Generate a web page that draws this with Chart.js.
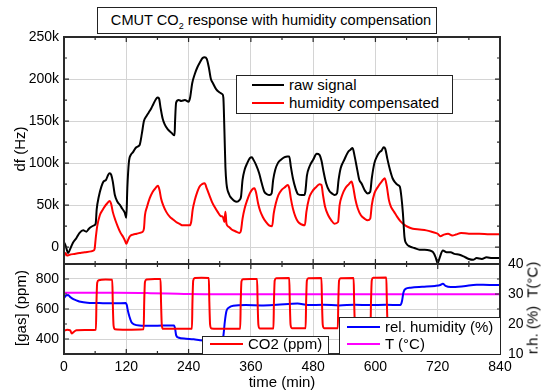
<!DOCTYPE html>
<html>
<head>
<meta charset="utf-8">
<script src="https://cdn.jsdelivr.net/npm/chart.js@4.4.1/dist/chart.umd.min.js"></script>
<style>
  body { margin: 0; background: #fff; font-family: "Liberation Sans", Arial, sans-serif; color: #000; }
  #wrap { position: relative; width: 541px; height: 390px; overflow: hidden; }
  canvas { position: absolute; left: 0; }
  #topChart { top: 0; }
  #bottomChart { top: 250px; }
  .box { position: absolute; background: #fff; border: 1px solid #222; box-sizing: border-box; font-size: 15px; }
  .row { position: absolute; left: 0; height: 18px; line-height: 18px; white-space: nowrap; }
  .swatch { position: absolute; top: 8px; height: 2px; }
  .row .txt { position: absolute; top: 0; }
  .axis-title { position: absolute; font-size: 15px; white-space: pre; transform: translate(-50%, -50%) rotate(-90deg); }
  #title { left: 97px; top: 7px; width: 340px; height: 27px; text-align: center; line-height: 25px; padding-left: 8px; white-space: nowrap; font-size: 14.6px; }
  #title sub { font-size: 9px; line-height: 0; vertical-align: -4px; }
</style>
</head>
<body>
<div id="wrap">
  <canvas id="topChart" width="541" height="270"></canvas>
  <canvas id="bottomChart" width="541" height="140"></canvas>

  <div class="box" id="title">CMUT CO<sub>2</sub> response with humidity compensation</div>

  <div class="box" style="left:236px;top:75px;width:217px;height:39px">
    <div class="row" style="top:0px"><span class="swatch" style="left:15px;width:32px;background:#000"></span><span class="txt" style="left:52px">raw signal</span></div>
    <div class="row" style="top:18px"><span class="swatch" style="left:15px;width:32px;background:#ff0000"></span><span class="txt" style="left:52px">humidity compensated</span></div>
  </div>

  <div class="box" style="left:202px;top:336px;width:127px;height:19px">
    <div class="row" style="top:-2px"><span class="swatch" style="left:7px;width:33px;background:#ff0000"></span><span class="txt" style="left:45px">CO2 (ppm)</span></div>
  </div>

  <div class="box" style="left:339px;top:317px;width:162px;height:38px">
    <div class="row" style="top:0px"><span class="swatch" style="left:7px;width:33px;background:#0000ff"></span><span class="txt" style="left:45px">rel. humidity (%)</span></div>
    <div class="row" style="top:17px"><span class="swatch" style="left:7px;width:33px;background:#ff00ff"></span><span class="txt" style="left:45px">T (°C)</span></div>
  </div>

  <div class="axis-title" style="left:19px;top:149px">df (Hz)</div>
  <div class="axis-title" style="left:20px;top:308px">[gas] (ppm)</div>
  <div class="axis-title" style="left:532px;top:308px">r.h. (%)  T(°C)</div>
  <div class="axis-title" style="left:282px;top:381px;transform:translate(-50%,-50%)">time (min)</div>
</div>

<script>
// tick labels
const timeTicks = [0, 120, 240, 360, 480, 600, 720, 840];
const dfTicks = [0, 50000, 100000, 150000, 200000, 250000];
const gasTicks = [400, 600, 800];
const rhTicks = [10, 20, 30, 40];

// raw CMUT frequency shift (Hz)
const rawTime = [0, 3, 8, 12, 17, 24, 30, 37, 43, 48, 52, 58, 61, 63, 67, 72, 76, 81, 85, 88, 91, 94, 98, 103, 108, 112, 117, 120,
  122, 125, 129, 133, 138, 143, 146, 150, 154, 159, 163, 168, 172, 177, 180, 183, 186, 190, 194, 200, 207, 213,
  214, 216, 221, 226, 233, 240, 243, 247, 252, 257, 262, 267, 271, 275, 279, 283, 287, 293, 300, 305, 307,
  309, 311, 313, 318, 323, 328, 333, 338, 341, 344, 348, 353, 358, 362, 365, 370, 376, 381, 386, 391, 396,
  400, 403, 407, 412, 418, 425, 430, 434, 437, 441, 446, 451, 458, 463, 465, 468, 473, 480, 487, 492, 496,
  500, 505, 511, 516, 521, 526, 529, 533, 540, 547, 552, 556, 560, 565, 569, 573, 580, 585, 590, 593, 598,
  603, 608, 612, 616, 619, 623, 628, 633, 638, 643, 647, 650, 653, 656, 660, 666, 675, 685, 695, 705, 711,
  716, 720, 724, 730, 737, 745, 752, 762, 770, 780, 788, 795, 805, 814, 825, 840];
const rawDf = [6000, 2000, -7000, -2000, 5000, 11000, 17000, 20000, 18500, 22000, 24000, 26000, 28000, 45000, 60000, 72000, 78000, 80000, 86000, 88000, 86000, 78000, 62000, 54000, 50000, 46000, 41000, 35000,
  70000, 101000, 110000, 113000, 118000, 120000, 122000, 135000, 150000, 156000, 160000, 165000, 170000, 176000, 178000, 177000, 166000, 153000, 146000, 140000, 136000, 133000,
  150000, 172000, 175000, 174000, 175000, 173000, 178000, 195000, 206000, 214000, 220000, 225000, 226000, 224000, 214000, 200000, 195000, 188000, 184000, 182000, 178000,
  140000, 95000, 76000, 63000, 58000, 55000, 54000, 56000, 60000, 80000, 92000, 100000, 106000, 107000, 104000, 98000, 88000, 76000, 66000, 63000, 62000,
  64000, 80000, 92000, 100000, 104000, 107000, 108000, 108000, 96000, 82000, 70000, 63000, 62000, 62000, 66000, 85000, 96000, 104000, 111000, 110000, 103000,
  90000, 76000, 67000, 64000, 62000, 64000, 80000, 94000, 104000, 113000, 116000, 118000, 108000, 92000, 80000, 76000, 67000, 64000, 66000, 82000, 100000,
  108000, 113000, 115000, 119000, 117000, 105000, 92000, 82000, 77000, 74000, 72000, 60000, 40000, 12000, 4000, 1000, -1000, -3000, -3000, -4000, -6000,
  -12000, -19000, -12000, -4000, -6000, -6000, -8000, -9000, -11000, -14000, -15000, -13000, -14000, -12000, -13000, -13000];

// humidity compensated frequency shift (Hz)
const compTime = [0, 3, 6, 11, 20, 30, 40, 52, 57, 59, 61, 64, 69, 74, 78, 83, 88, 91, 94, 99, 104, 109, 114, 118, 120,
  123, 127, 133, 140, 146, 151, 154, 156, 160, 165, 171, 176, 181, 184, 187, 191, 197, 204, 210, 216, 222, 229, 236, 242,
  245, 248, 252, 257, 261, 266, 271, 275, 280, 285, 290, 296, 302, 306, 309, 311, 313, 318, 323, 330, 338,
  341, 344, 348, 353, 358, 363, 367, 370, 374, 378, 383, 389, 395, 401, 404, 408, 413, 419, 425, 431, 434,
  437, 441, 446, 451, 458, 464, 467, 472, 478, 485, 492, 496, 499, 503, 509, 515, 521, 528, 531, 536, 542,
  549, 554, 557, 561, 566, 572, 579, 585, 590, 593, 598, 605, 612, 618, 622, 626, 630, 636, 642, 648, 655,
  663, 672, 685, 698, 710, 720, 725, 732, 740, 748, 755, 765, 780, 800, 820, 840];
const compDf = [-11000, -7000, -10000, -9000, -8000, -7000, -6000, -5000, -4000, -2000, 10000, 25000, 38000, 44000, 48000, 52000, 55000, 51000, 42000, 32000, 24000, 17000, 12000, 7000, 4000,
  8000, 13000, 15000, 16000, 17000, 18000, 22000, 38000, 48000, 58000, 66000, 70000, 73000, 68000, 58000, 50000, 42000, 36000, 33000, 30000, 28000, 26000, 26000, 26000,
  30000, 45000, 56000, 66000, 72000, 75000, 76000, 70000, 62000, 54000, 48000, 42000, 37000, 36000, 30000, 42000, 28000, 24000, 21000, 19000, 17000,
  20000, 34000, 46000, 56000, 64000, 69000, 70000, 65000, 52000, 43000, 36000, 30000, 26000, 25000, 40000, 52000, 62000, 68000, 71000, 74000, 70000,
  58000, 46000, 36000, 30000, 27000, 26000, 42000, 58000, 66000, 71000, 75000, 74000, 62000, 48000, 38000, 32000, 28000, 30000, 50000, 62000, 70000,
  75000, 78000, 72000, 58000, 46000, 38000, 34000, 32000, 34000, 50000, 64000, 72000, 78000, 82000, 72000, 56000, 48000, 42000, 36000, 31000, 27000,
  24000, 22000, 21000, 20000, 18000, 16000, 13000, 15000, 16000, 14000, 15000, 17000, 16000, 16000, 15500, 15500];

// CO2 concentration (ppm)
const co2Time = [0, 6, 12, 15, 18, 24, 40, 61.5, 62.5, 64, 67, 80, 93, 94, 95.5, 98, 120,
  153.5, 154.5, 156, 159, 175, 186, 187, 188.5, 191, 220,
  246.5, 247.5, 249, 252, 265, 279, 280, 281.5, 284, 310,
  339.5, 340.5, 342, 345, 360, 372, 373, 374.5, 377,
  403.5, 404.5, 406, 409, 434, 435, 436.5, 439,
  465.5, 466.5, 468, 471, 496, 497, 498.5, 501,
  527.5, 528.5, 530, 533, 558, 559, 560.5, 563,
  590.5, 591.5, 593, 596, 621, 622, 623.5, 626, 700, 840];
const co2Ppm = [455, 462, 458, 436, 445, 458, 460, 462, 640, 775, 792, 796, 795, 640, 490, 465, 462,
  465, 640, 780, 797, 800, 800, 640, 490, 468, 468,
  468, 650, 790, 806, 808, 806, 650, 495, 470, 468,
  468, 650, 785, 798, 800, 800, 650, 495, 470,
  470, 650, 790, 805, 806, 650, 495, 472,
  472, 650, 790, 805, 806, 650, 495, 472,
  472, 650, 790, 805, 806, 650, 495, 472,
  472, 650, 792, 808, 810, 650, 495, 472, 470, 470];

// relative humidity (%)
const rhTime = [0, 4, 8, 12, 18, 25, 32, 45, 62, 80, 100, 119, 121, 123, 126, 130, 135, 145, 170, 190, 212, 214, 216, 220, 235,
  250, 262, 280, 300, 305, 307, 310, 313, 318, 326, 350, 380, 410, 450, 470, 500, 530, 560, 590, 620, 648,
  651, 654, 658, 668, 690, 715, 725, 730, 735, 745, 770, 795, 820, 840];
const rhPct = [28.6, 29.5, 29.7, 29.0, 28.3, 27.8, 27.4, 27.1, 27.0, 26.9, 26.9, 27.0, 26.3, 24.5, 22.5, 20.6, 19.9, 19.5, 19.4, 19.5, 19.5, 18.5, 16.3, 15.5, 15.1,
  14.9, 14.6, 14.4, 14.3, 14.5, 16.0, 21.0, 24.3, 25.5, 26.1, 26.3, 26.2, 26.4, 26.8, 26.3, 26.4, 26.2, 26.4, 26.3, 26.4, 26.3,
  27.5, 30.5, 31.7, 32.1, 32.4, 32.7, 33.0, 33.4, 32.7, 32.3, 32.6, 33.1, 33.0, 33.0];

// temperature (°C)
const tempTime = [0, 100, 160, 200, 240, 300, 840];
const tempC = [30.4, 30.4, 30.3, 30.2, 30.0, 29.9, 29.9];

const font = { family: 'Liberation Sans', size: 14 };
const gridColor = '#d4d4d4';
const frameColor = '#2a2a2a';

function pts(xs, ys) {
    return xs.map((x, i) => ({ x, y: ys[i] }));
}

// inward ticks on all four sides plus the plot frame
const frameTicks = {
    id: 'frameTicks',
    afterDraw(chart, args, o) {
        const { ctx, chartArea: a } = chart;
        const xs = chart.scales.x;
        const yl = chart.scales[o.left];
        const yr = chart.scales[o.right];
        ctx.save();
        ctx.strokeStyle = frameColor;
        ctx.lineWidth = 1.2;
        ctx.beginPath();
        for (let v = xs.min; v <= xs.max; v += o.xMinor) {
            const px = xs.getPixelForValue(v);
            const len = v % o.xMajor === 0 ? 5 : 3;
            ctx.moveTo(px, a.top); ctx.lineTo(px, a.top + len);
            ctx.moveTo(px, a.bottom); ctx.lineTo(px, a.bottom - len);
        }
        const side = (s, x0, dir, minor, major) => {
            for (let v = Math.ceil(s.min / minor) * minor; v <= s.max + 1e-9; v += minor) {
                const py = s.getPixelForValue(v);
                const len = Math.abs(v % major) < 1e-6 ? 5 : 3;
                ctx.moveTo(x0, py); ctx.lineTo(x0 + dir * len, py);
            }
        };
        side(yl, a.left, 1, o.leftMinor, o.leftMajor);
        side(yr, a.right, -1, o.rightMinor, o.rightMajor);
        ctx.stroke();
        ctx.lineWidth = 2;
        ctx.strokeRect(a.left, a.top, a.right - a.left, a.bottom - a.top);
        ctx.restore();
    }
};

const setTicks = (list) => (s) => { s.ticks = list.map((v) => ({ value: v })); };
// fixed axis boxes, no extra room for half-labels
const fixV = (w) => (s) => { s.width = w; s.paddingTop = 0; s.paddingBottom = 0; };
const fixH = (h) => (s) => { s.height = h; s.paddingLeft = 0; s.paddingRight = 0; };

new Chart(document.getElementById('topChart'), {
    type: 'line',
    data: {
        datasets: [
            { label: 'raw signal', data: pts(rawTime, rawDf), borderColor: '#000000' },
            { label: 'humidity compensated', data: pts(compTime, compDf), borderColor: '#ff0000' }
        ]
    },
    options: {
        responsive: false,
        animation: false,
        layout: { padding: { top: 37, right: 41, bottom: 6, left: 0 } },
        elements: {
            point: { radius: 0 },
            line: { borderWidth: 2, cubicInterpolationMode: 'monotone' }
        },
        plugins: {
            legend: { display: false },
            tooltip: { enabled: false },
            frameTicks: { left: 'y', right: 'y', xMinor: 60, xMajor: 120, leftMinor: 25000, leftMajor: 50000, rightMinor: 25000, rightMajor: 50000 }
        },
        scales: {
            x: {
                type: 'linear', min: 0, max: 840,
                afterBuildTicks: setTicks(timeTicks),
                ticks: { display: false },
                grid: { color: gridColor, drawTicks: false },
                border: { display: false },
                afterFit: fixH(0)
            },
            y: {
                min: -20000, max: 250000,
                afterBuildTicks: setTicks(dfTicks),
                ticks: { font, color: '#000', padding: 5, callback: (v) => (v === 0 ? '0' : v / 1000 + 'k') },
                grid: { color: gridColor, drawTicks: false },
                border: { display: false },
                afterFit: fixV(64)
            }
        }
    },
    plugins: [frameTicks]
});

new Chart(document.getElementById('bottomChart'), {
    type: 'line',
    data: {
        datasets: [
            { label: 'CO2 (ppm)', data: pts(co2Time, co2Ppm), borderColor: '#ff0000', yAxisID: 'yGas' },
            { label: 'rel. humidity (%)', data: pts(rhTime, rhPct), borderColor: '#0000ff', yAxisID: 'yRh' },
            { label: 'T (°C)', data: pts(tempTime, tempC), borderColor: '#ff00ff', yAxisID: 'yRh' }
        ]
    },
    options: {
        responsive: false,
        animation: false,
        layout: { padding: { top: 14, right: 0, bottom: 0, left: 0 } },
        elements: {
            point: { radius: 0 },
            line: { borderWidth: 2, cubicInterpolationMode: 'monotone' }
        },
        plugins: {
            legend: { display: false },
            tooltip: { enabled: false },
            frameTicks: { left: 'yGas', right: 'yRh', xMinor: 60, xMajor: 120, leftMinor: 100, leftMajor: 200, rightMinor: 5, rightMajor: 10 }
        },
        scales: {
            x: {
                type: 'linear', min: 0, max: 840,
                afterBuildTicks: setTicks(timeTicks),
                ticks: { font, color: '#000', padding: 5, maxRotation: 0 },
                grid: { color: gridColor, drawTicks: false },
                border: { display: false },
                afterFit: fixH(36)
            },
            yGas: {
                position: 'left', min: 300, max: 900,
                afterBuildTicks: setTicks(gasTicks),
                ticks: { font, color: '#000', padding: 5 },
                grid: { color: gridColor, drawTicks: false },
                border: { display: false },
                afterFit: fixV(64)
            },
            yRh: {
                position: 'right', min: 10, max: 40,
                afterBuildTicks: setTicks(rhTicks),
                ticks: { font, color: '#000', padding: 8 },
                grid: { display: false, drawTicks: false },
                border: { display: false },
                afterFit: fixV(41)
            }
        }
    },
    plugins: [frameTicks]
});
</script>
</body>
</html>
